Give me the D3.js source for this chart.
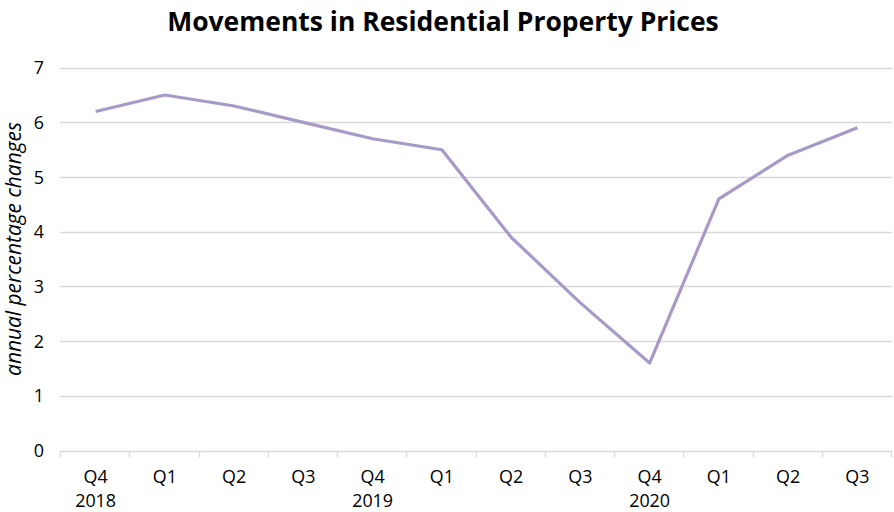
<!DOCTYPE html>
<html><head><meta charset="utf-8">
<script src="https://cdn.jsdelivr.net/npm/d3@7"></script>
<style>body{margin:0;background:#fff;} svg{display:block;font-family:"Open Sans", "Noto Sans", sans-serif;}</style>
</head><body>
<svg id="c" width="894" height="512"></svg>
<script>
const quarters = ["Q4","Q1","Q2","Q3","Q4","Q1","Q2","Q3","Q4","Q1","Q2","Q3"];
const years = ["2018","","","","2019","","","","2020","","",""];
const values = [6.2,6.5,6.3,6.0,5.7,5.5,3.9,2.7,1.6,4.6,5.4,5.9];
const yTicks = [0,1,2,3,4,5,6,7];
const title = "Movements in Residential Property Prices";
const yTitle = "annual percentage changes";

const svg = d3.select("#c");
const m = {l:61, r:2};
const W = 894;
const idx = d3.range(values.length);
const x = d3.scaleBand().domain(idx).range([m.l, W - m.r]).padding(0);
const y = d3.scaleLinear().domain([0,7]).range([450.5, 67.7]);

function fitSize(sel, target){
  const s0 = 20;
  sel.attr("font-size", s0);
  const len = sel.node().getComputedTextLength();
  const s = s0 * target / len;
  sel.attr("font-size", s);
  return s;
}

const probe = svg.append("text").text("2018");
const tickSize = fitSize(probe, 41);
probe.remove();

// gridlines
svg.append("g").selectAll("line").data(yTicks.filter(d=>d>0)).join("line")
  .attr("x1", m.l-1).attr("x2", W - m.r)
  .attr("y1", d=>Math.round(y(d))+0.5).attr("y2", d=>Math.round(y(d))+0.5)
  .attr("stroke","#d9d9d9").attr("stroke-width",1.3);

const ay = Math.round(y(0))+0.5;
svg.append("line").attr("x1", m.l-1).attr("x2", W-m.r).attr("y1", ay).attr("y2", ay)
  .attr("stroke","#d9d9d9").attr("stroke-width",1.3);
const bounds = idx.map(i=>x(i)).concat([x(idx[idx.length-1])+x.bandwidth()]);
svg.append("g").selectAll("line").data(bounds).join("line")
  .attr("x1", d=>Math.round(d)-0.5).attr("x2", d=>Math.round(d)-0.5)
  .attr("y1", ay).attr("y2", ay+6).attr("stroke","#d9d9d9").attr("stroke-width",1.3);

// y labels
svg.append("g").selectAll("text").data(yTicks).join("text")
  .attr("x", 44).attr("y", d=>y(d)).attr("dy","0.36em").attr("text-anchor","end")
  .attr("font-size",tickSize).attr("fill","#000").text(d=>d);

// x labels
const xl = svg.append("g");
xl.selectAll("text.q").data(idx).join("text").attr("class","q")
  .attr("x", i=>x(i)+x.bandwidth()/2).attr("y", 483).attr("text-anchor","middle")
  .attr("font-size",tickSize).attr("fill","#000").text(i=>quarters[i]);
xl.selectAll("text.yr").data(idx.filter(i=>years[i])).join("text").attr("class","yr")
  .attr("x", i=>x(i)+x.bandwidth()/2).attr("y", 507).attr("text-anchor","middle")
  .attr("font-size",tickSize).attr("fill","#000").text(i=>years[i]);

// line
const line = d3.line().x((d,i)=>x(i)+x.bandwidth()/2).y(d=>y(d));
svg.append("path").datum(values).attr("d", line).attr("fill","none")
  .attr("stroke","#a899c8").attr("stroke-width",3.2).attr("stroke-linejoin","round");

// title
const t = svg.append("text").attr("x", 443).attr("y", 31).attr("text-anchor","middle")
  .attr("font-weight","bold").attr("fill","#000").text(title);
fitSize(t, 552);

// y title
const yt = svg.append("text").attr("transform","translate(21,249) rotate(-90)").attr("text-anchor","middle")
  .attr("font-style","italic").attr("fill","#000").text(yTitle);
fitSize(yt, 254);
</script>
</body></html>
